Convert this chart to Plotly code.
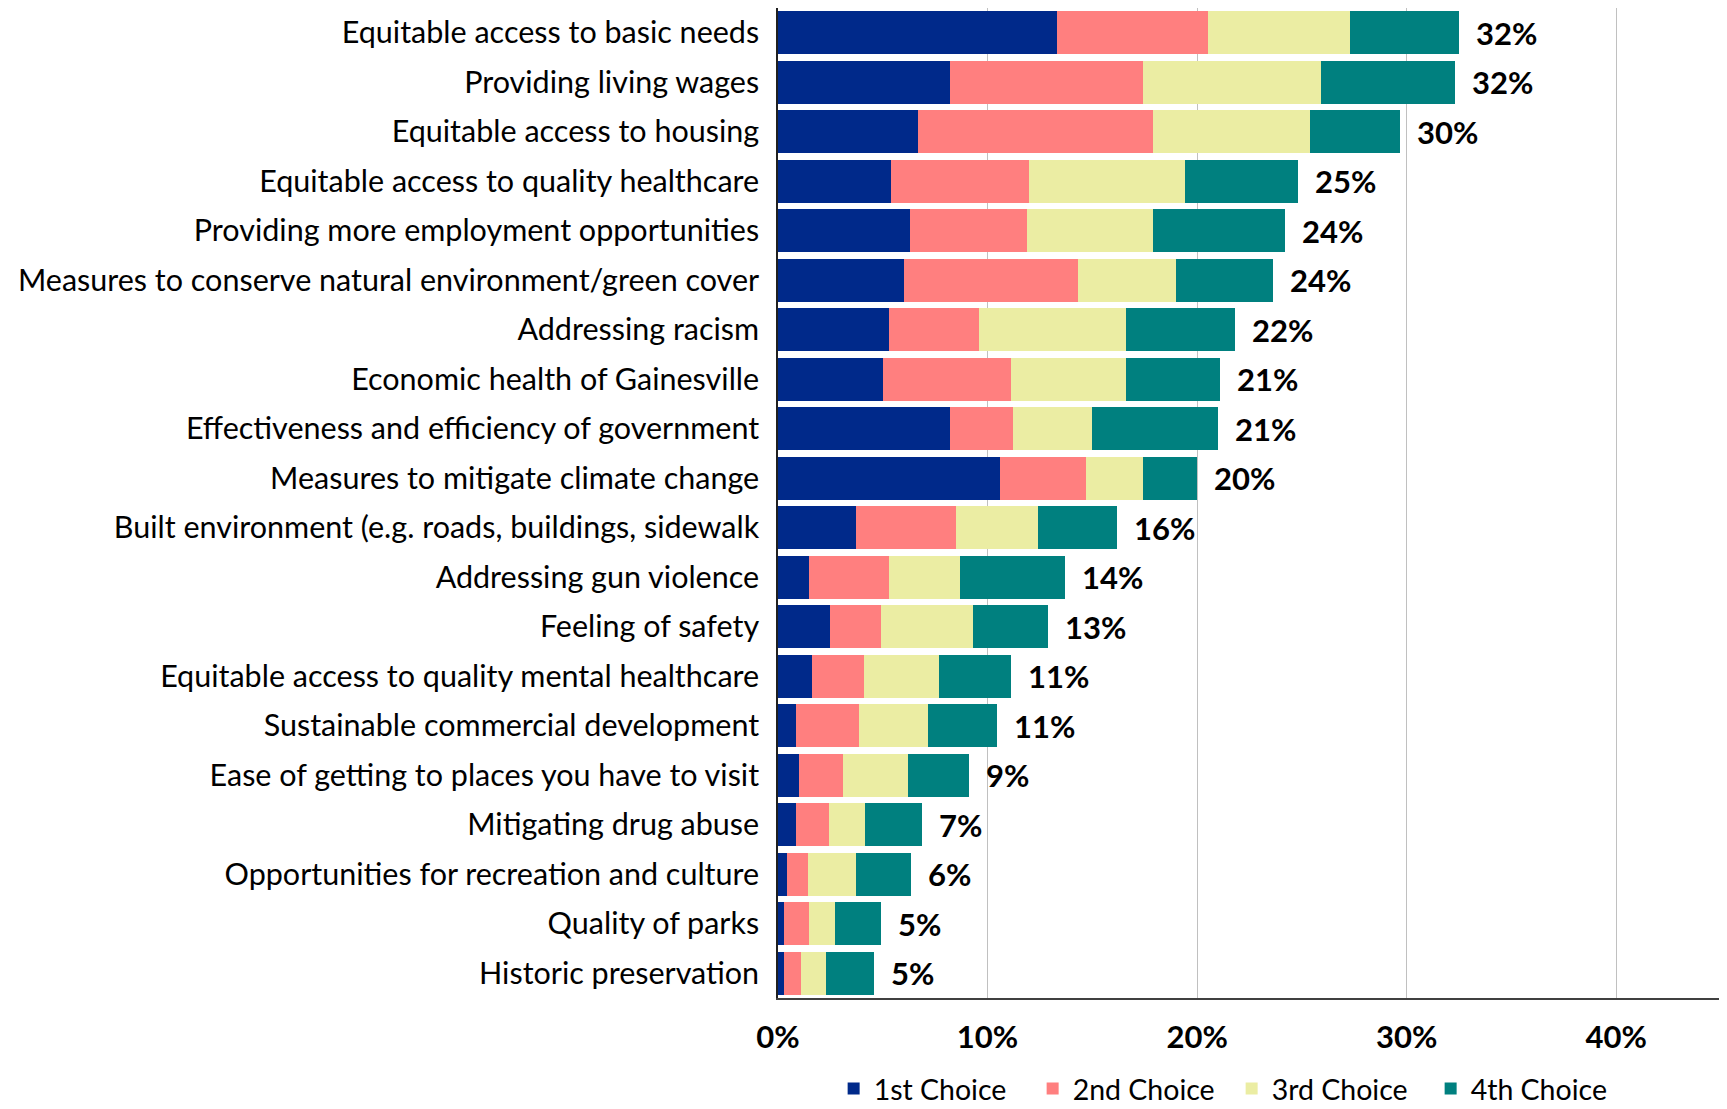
import plotly.graph_objects as go

categories = [
    "Equitable access to basic needs",
    "Providing living wages",
    "Equitable access to housing",
    "Equitable access to quality healthcare",
    "Providing more employment opportunities",
    "Measures to conserve natural environment/green cover",
    "Addressing racism",
    "Economic health of Gainesville",
    "Effectiveness and efficiency of government",
    "Measures to mitigate climate change",
    "Built environment (e.g. roads, buildings, sidewalk",
    "Addressing gun violence",
    "Feeling of safety",
    "Equitable access to quality mental healthcare",
    "Sustainable commercial development",
    "Ease of getting to places you have to visit",
    "Mitigating drug abuse",
    "Opportunities for recreation and culture",
    "Quality of parks",
    "Historic preservation",
]

first_choice = [0.133, 0.082, 0.067, 0.054, 0.063, 0.060, 0.053, 0.050, 0.082, 0.106,
                0.037, 0.015, 0.025, 0.016, 0.0085, 0.010, 0.0085, 0.0044, 0.003, 0.003]
second_choice = [0.072, 0.092, 0.112, 0.066, 0.056, 0.083, 0.043, 0.061, 0.030, 0.041,
                 0.048, 0.038, 0.024, 0.025, 0.030, 0.021, 0.016, 0.010, 0.012, 0.008]
third_choice = [0.068, 0.085, 0.075, 0.074, 0.060, 0.047, 0.070, 0.055, 0.038, 0.027,
                0.039, 0.034, 0.044, 0.036, 0.033, 0.031, 0.017, 0.023, 0.012, 0.012]
fourth_choice = [0.052, 0.064, 0.043, 0.054, 0.063, 0.046, 0.052, 0.045, 0.060, 0.026,
                 0.038, 0.050, 0.036, 0.034, 0.033, 0.029, 0.027, 0.026, 0.022, 0.023]

total_labels = ["32%", "32%", "30%", "25%", "24%", "24%", "22%", "21%", "21%", "20%",
                "16%", "14%", "13%", "11%", "11%", "9%", "7%", "6%", "5%", "5%"]

series_names = ["1st Choice", "2nd Choice", "3rd Choice", "4th Choice"]
series_values = [first_choice, second_choice, third_choice, fourth_choice]
series_colors = ["#00298A", "#FF7F7F", "#EBEDA3", "#00807F"]

x_tick_vals = [0, 0.1, 0.2, 0.3, 0.4]
x_tick_text = ["0%", "10%", "20%", "30%", "40%"]

FONT = "Lato, 'Open Sans', sans-serif"

fig = go.Figure()
for name, vals, col in zip(series_names, series_values, series_colors):
    fig.add_trace(go.Bar(
        y=categories, x=vals, name=name, orientation="h",
        marker=dict(color=col, line=dict(width=0)),
        hoverinfo="x+name",
    ))

totals = [a + b + c + d for a, b, c, d in zip(*series_values)]
for cat, tot, lab in zip(categories, totals, total_labels):
    fig.add_annotation(
        x=tot, y=cat, text=lab, showarrow=False, xanchor="left", yanchor="middle",
        xshift=15, font=dict(family=FONT, size=31, color="#000000", weight="bold"),
    )

fig.update_layout(
    width=1719, height=1101,
    barmode="stack", bargap=0.14,
    plot_bgcolor="white", paper_bgcolor="white",
    margin=dict(l=770, r=6, t=0, b=111, autoexpand=False),
    font=dict(family=FONT, size=30, color="#000000"),
    legend=dict(
        orientation="h", x=0.059, xanchor="left", y=-0.092, yanchor="middle",
        font=dict(family=FONT, size=28.5, color="#000000"),
        entrywidth=154, entrywidthmode="pixels",
        traceorder="normal", itemsizing="constant",
    ),
    showlegend=True,
)

fig.update_xaxes(
    range=[0, 0.45], tickvals=x_tick_vals, ticktext=x_tick_text,
    showgrid=True, gridcolor="#C0C0C0", gridwidth=1.3,
    showline=True, linecolor="#404040", linewidth=1.5, mirror=True,
    zeroline=False, ticks="", ticklabelstandoff=11,
    tickfont=dict(family=FONT, size=31, color="#000000", weight="bold"),
    automargin=False,
)
fig.update_yaxes(
    autorange="reversed", showgrid=False,
    showline=True, linecolor="#202020", linewidth=1.5, mirror=True,
    ticks="", ticklabelstandoff=11,
    tickfont=dict(family=FONT, size=30.5, color="#000000"),
    automargin=False,
)

fig.write_html("out.html")
